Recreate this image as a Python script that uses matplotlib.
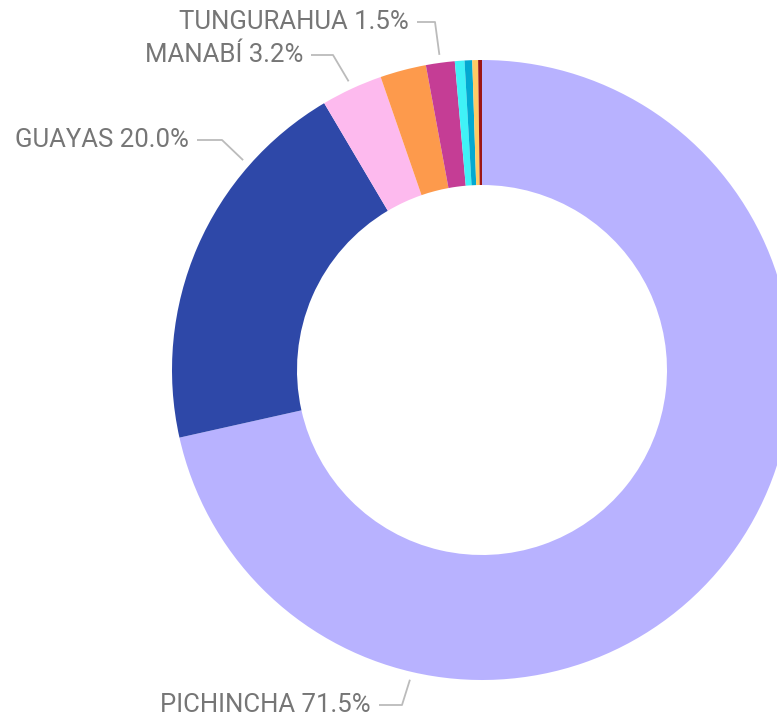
import numpy as np
import matplotlib
matplotlib.use("Agg")
import matplotlib.pyplot as plt

# provinces, share of total (%)
provinces = ["PICHINCHA", "GUAYAS", "MANABÍ", "AZUAY", "TUNGURAHUA",
             "IMBABURA", "EL ORO", "LOJA", "OTRAS"]
shares = [71.5, 20.0, 3.2, 2.4, 1.5, 0.5, 0.4, 0.3, 0.2]
colors = ["#b8b2ff", "#2e48a8", "#fdbaee", "#fd9a4c", "#c53d95",
          "#40f2f7", "#03a9d1", "#ffcb65", "#9c1515"]

# only these get a label: (index, anchor angle, elbow x, text x, text y) in px
labels = [
    (0, 256.9, 402, 371, 705),
    (1, 138.7, 222, 189, 140),
    (2, 114.8, 333, 303, 55),
    (4, 97.7, 435, 409, 22),
]

W, H = 777, 718
cx, cy = 482, H - 370
r_out, r_in = 310, 185

fig = plt.figure(figsize=(W / 100, H / 100), dpi=100)
ax = fig.add_axes([0, 0, 1, 1])
ax.axis("off")

ax.pie(shares, colors=colors, startangle=90, counterclock=False,
       center=(cx, cy), radius=r_out,
       wedgeprops=dict(width=r_out - r_in, linewidth=0))
ax.set_xlim(0, W)
ax.set_ylim(0, H)
ax.set_aspect("equal")

for i, ang, ex, tx, ty in labels:
    a = np.deg2rad(ang)
    px = cx + (r_out + 8) * np.cos(a)
    py = cy + (r_out + 8) * np.sin(a)
    yy = H - ty
    ax.plot([px, ex, tx + 8], [py, yy, yy], color="#bbbbbb", lw=1.3,
            solid_capstyle="butt", clip_on=False)
    ax.text(tx, yy, f"{provinces[i]} {shares[i]:.1f}%", ha="right",
            va="center", fontsize=18.5, color="#767676", family="Roboto")

fig.savefig("out.png", dpi=100)
